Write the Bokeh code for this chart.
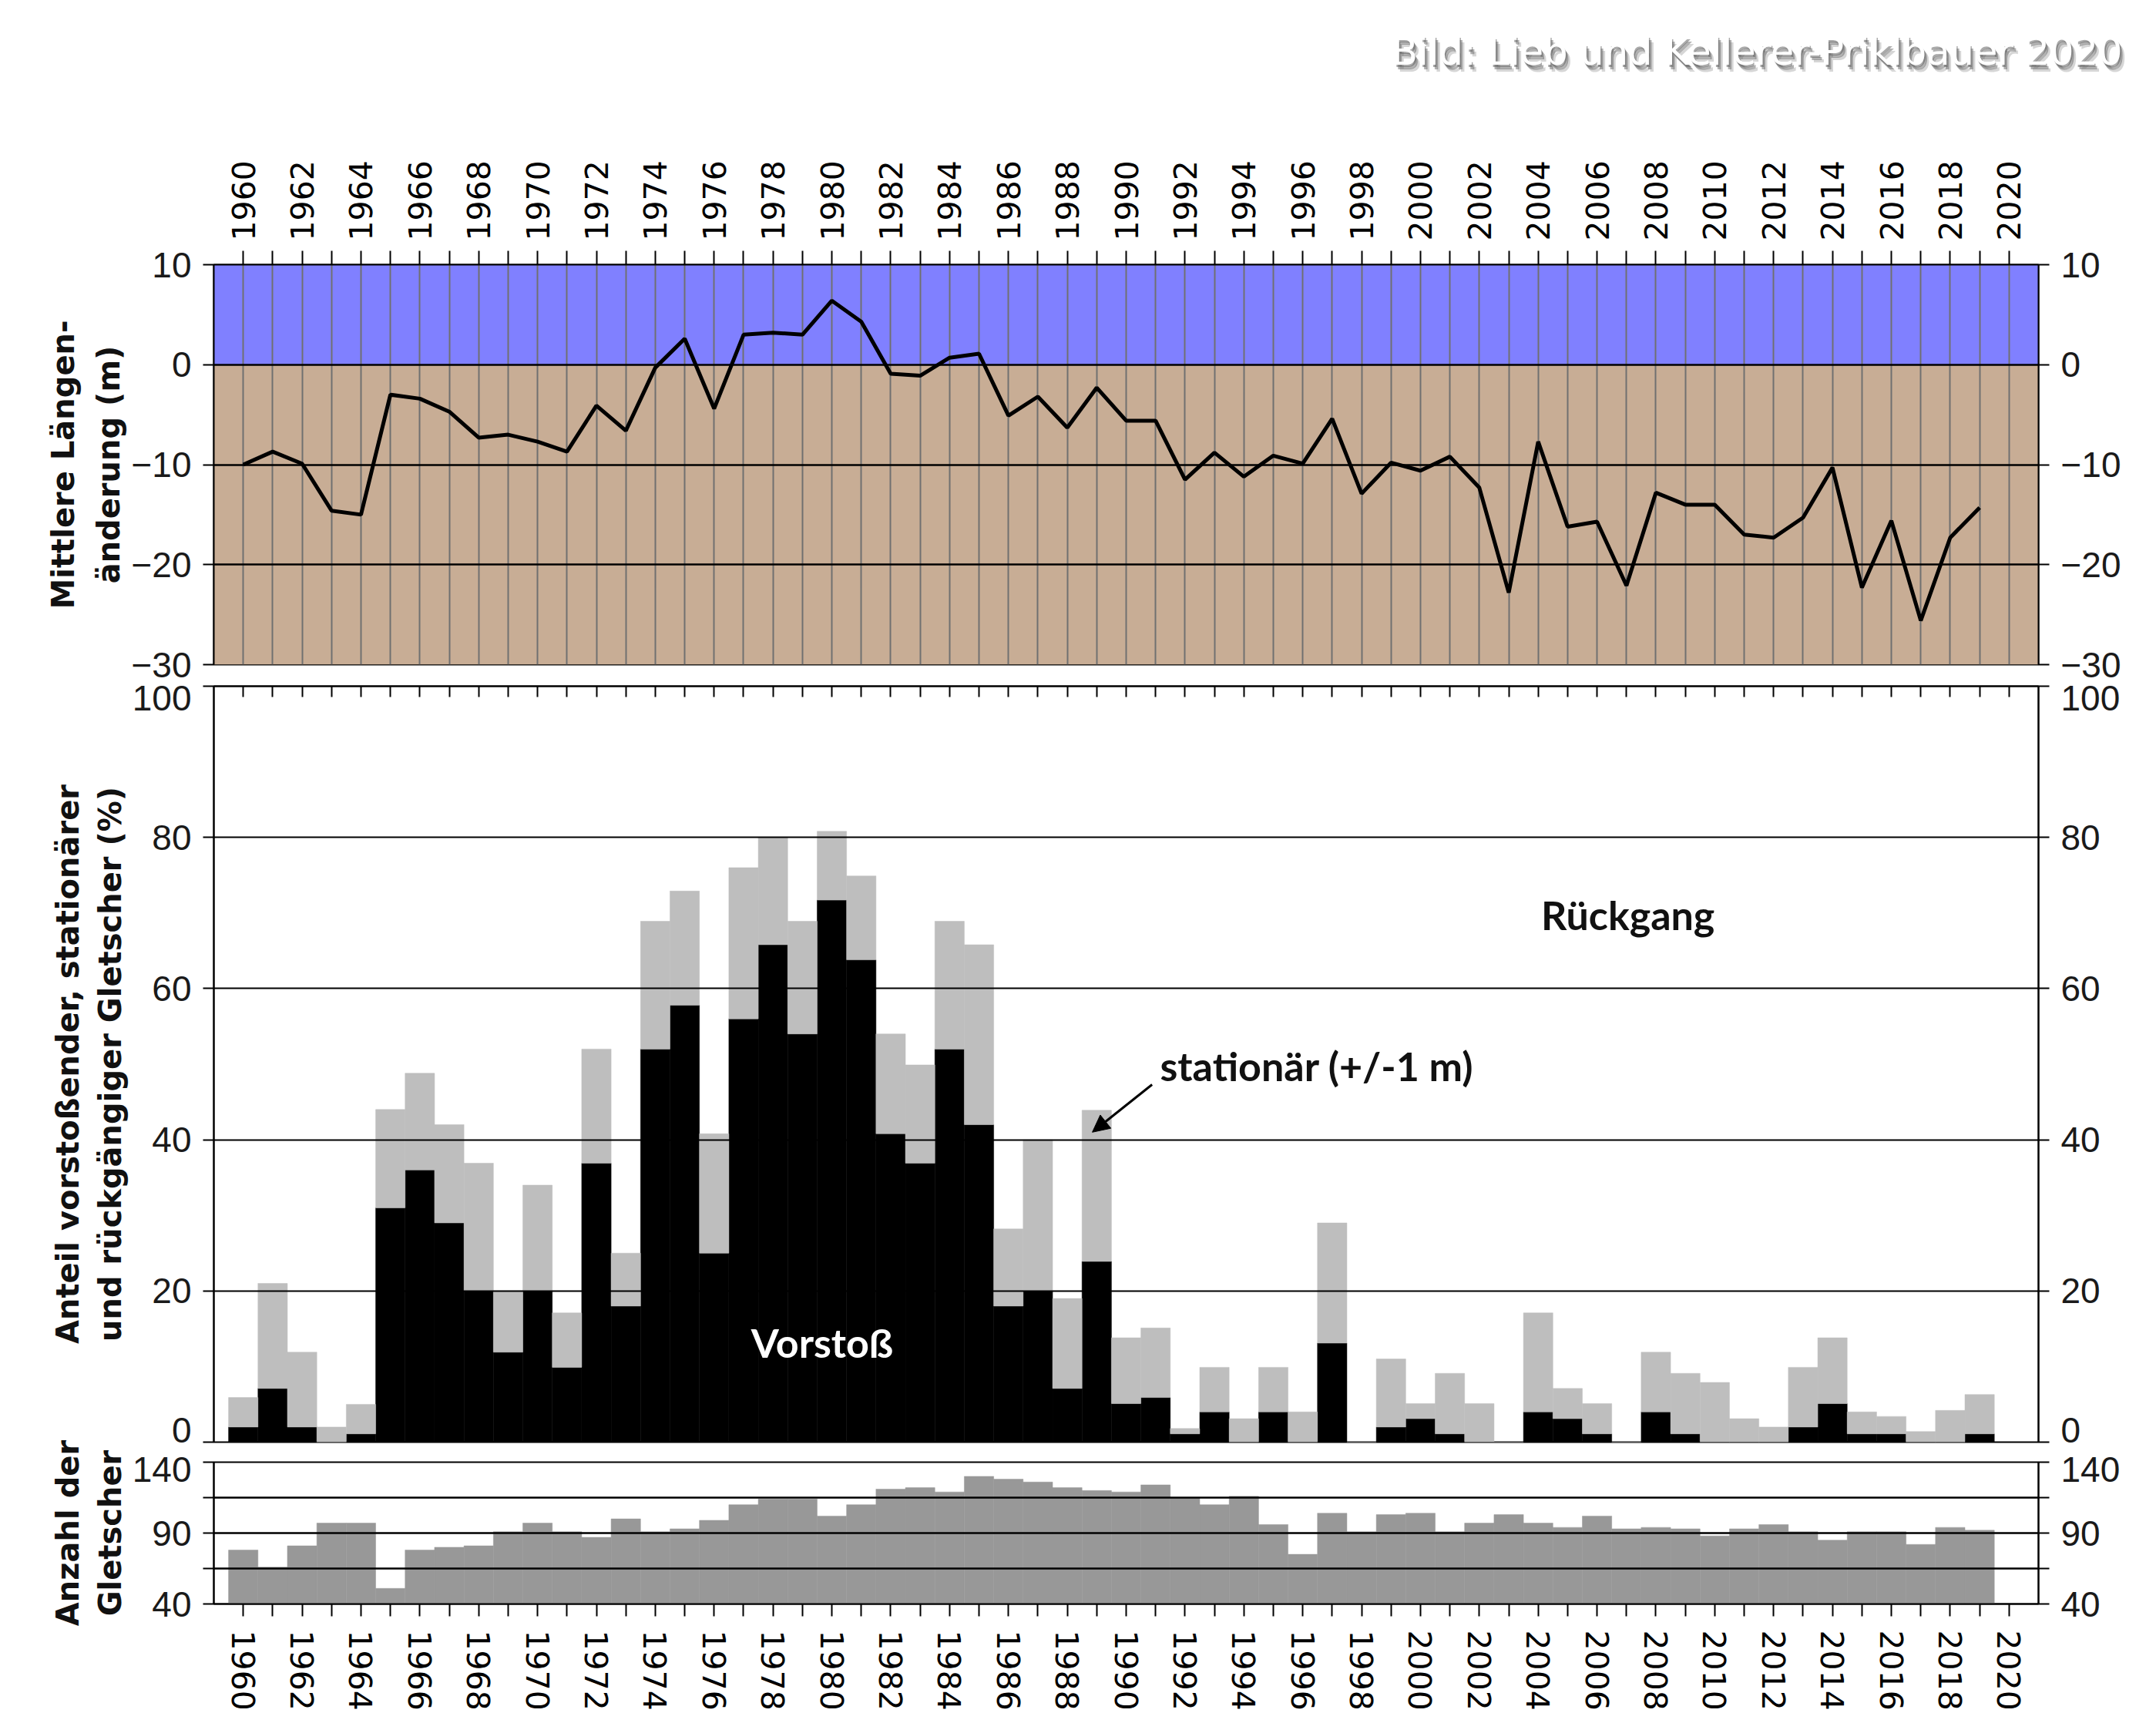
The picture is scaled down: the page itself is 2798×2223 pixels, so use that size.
from bokeh.plotting import figure
from bokeh.models import (Range1d, FixedTicker, LinearAxis, BoxAnnotation, Label,
                          Arrow, NormalHead, ColumnDataSource)
from bokeh.layouts import column
from bokeh.embed import file_html
from bokeh.resources import INLINE

# ---------------- data ----------------
years = list(range(1960, 2020))

length_change = [-10.0, -8.7, -9.9, -14.6, -15.0, -3.0, -3.4, -4.7, -7.3, -7.0,
                 -7.7, -8.7, -4.1, -6.6, -0.3, 2.6, -4.4, 3.0, 3.2, 3.0,
                 6.4, 4.3, -0.9, -1.1, 0.7, 1.1, -5.1, -3.2, -6.3, -2.3,
                 -5.6, -5.6, -11.5, -8.8, -11.2, -9.1, -9.9, -5.4, -12.9, -9.8,
                 -10.6, -9.2, -12.3, -22.8, -7.7, -16.2, -15.7, -22.1, -12.8, -14.0,
                 -14.0, -17.0, -17.3, -15.3, -10.3, -22.3, -15.6, -25.6, -17.3, -14.3]

advance = [2.0, 7.1, 2.0, 0.0, 1.1, 31.0, 36.0, 29.0, 20.0, 11.9,
           20.0, 9.9, 36.9, 18.0, 52.0, 57.8, 25.0, 56.0, 65.8, 54.0,
           71.7, 63.8, 40.8, 36.9, 52.0, 42.0, 18.0, 20.0, 7.1, 23.9,
           5.1, 5.9, 1.1, 4.0, 0.0, 4.0, 0.0, 13.1, 0.0, 2.0,
           3.1, 1.1, 0.0, 0.0, 4.0, 3.1, 1.1, 0.0, 4.0, 1.1,
           0.0, 0.0, 0.0, 2.0, 5.1, 1.1, 1.1, 0.0, 0.0, 1.1]

stationary = [3.9, 13.9, 9.9, 2.0, 3.9, 13.0, 12.8, 13.0, 16.9, 8.1,
              14.0, 7.2, 15.1, 7.0, 16.9, 15.1, 15.8, 20.0, 14.2, 14.9,
              9.1, 11.1, 13.2, 13.0, 16.9, 23.8, 10.2, 20.0, 11.9, 20.0,
              8.7, 9.2, 0.7, 5.9, 3.1, 5.9, 4.0, 15.9, 0.0, 9.0,
              2.0, 8.0, 5.1, 0.0, 13.1, 4.0, 4.0, 0.0, 7.9, 8.0,
              7.9, 3.1, 2.0, 7.9, 8.7, 2.9, 2.3, 1.4, 4.2, 5.2]

glacier_count = [78, 66, 81, 97, 97, 51, 78, 80, 81, 91,
                 97, 91, 87, 100, 91, 93, 99, 110, 114, 114,
                 102, 110, 121, 122, 119, 130, 128, 126, 122, 120,
                 119, 124, 115, 110, 116, 96, 75, 104, 91, 103,
                 104, 91, 97, 103, 97, 94, 102, 93, 94, 93,
                 88, 93, 96, 91, 85, 91, 91, 82, 94, 92]

year_ticks = list(range(1960, 2021))
year_labels = {y: (str(y) if y % 2 == 0 else "") for y in year_ticks}
top_ticks = [-30, -20, -10, 0, 10]
mid_ticks = [0, 20, 40, 60, 80, 100]
mid_labels = {0: "0\n", 100: "\n100"}
bot_ticks = [40, 65, 90, 115, 140]
bot_labels = {40: "40", 65: "", 90: "90", 115: "", 140: "\n140"}

credit = "Bild: Lieb und Kellerer-Priklbauer 2020"

# ---------------- style ----------------
W = 2782
LEFT = 277
RIGHT = W - LEFT - 2368
OV = 30                      # overlap between stacked panels (so edge labels are not cut)
CREDIT_H = 130
TICK_FONT = "Liberation Sans"
YEAR_FONT = "DejaVu Sans"
TITLE_FONT = "DejaVu Sans"
ANN_FONT = "Lato"
BLUE = "#8080FF"
TAN = "#C8AD95"
LIGHT = "#BEBEBE"
DARKGRAY = "#989898"

x_range = Range1d(1959, 2021)


def style_y(ax, ticks, overrides=None, line_height=1.2):
    ax.ticker = FixedTicker(ticks=ticks)
    ax.major_tick_out = 14
    ax.major_tick_in = 0
    ax.minor_tick_out = 0
    ax.minor_tick_in = 0
    ax.major_tick_line_width = 2
    ax.major_tick_line_color = "black"
    ax.axis_line_width = 2
    ax.axis_line_color = "black"
    ax.major_label_text_font = TICK_FONT
    ax.major_label_text_font_size = "46px"
    ax.major_label_text_color = "#1a1a1a"
    ax.major_label_text_line_height = line_height
    ax.major_label_standoff = 15
    if overrides:
        ax.major_label_overrides = overrides


def style_title(ax, text, line_height=1.2):
    ax.axis_label = text
    ax.axis_label_text_font = TITLE_FONT
    ax.axis_label_text_font_style = "bold"
    ax.axis_label_text_font_size = "40px"
    ax.axis_label_text_color = "#111111"
    ax.axis_label_standoff = 3
    ax.axis_label_text_line_height = line_height


def style_x(ax, tick_out, tick_in, show_labels, standoff):
    ax.ticker = FixedTicker(ticks=year_ticks)
    ax.major_tick_out = tick_out
    ax.major_tick_in = tick_in
    ax.minor_tick_out = 0
    ax.minor_tick_in = 0
    ax.major_tick_line_width = 2
    ax.major_tick_line_color = "black"
    ax.axis_line_width = 2
    ax.axis_line_color = "black"
    if show_labels:
        ax.major_label_overrides = year_labels
        ax.major_label_orientation = "vertical"
        ax.major_label_text_font = YEAR_FONT
        ax.major_label_text_font_size = "41px"
        ax.major_label_text_color = "black"
        ax.major_label_standoff = standoff
    else:
        ax.major_label_overrides = {y: "" for y in year_ticks}
        ax.major_label_text_font_size = "0px"
        ax.major_label_standoff = 0


def transparent(p):
    p.background_fill_alpha = 0
    p.border_fill_alpha = 0


common = dict(width=W, x_range=x_range, output_backend="svg", toolbar_location=None,
              min_border_left=LEFT, min_border_right=RIGHT)


# ---------------- credit line (white text with soft grey shadow) ----------------
def credit_fig(color, alpha, dx, dy, overlap):
    f = figure(width=W, height=CREDIT_H, x_range=Range1d(0, 1), y_range=Range1d(0, 1),
               x_axis_location=None, y_axis_location=None, output_backend="svg",
               toolbar_location=None, min_border_left=LEFT, min_border_right=RIGHT,
               min_border_top=100 + dy, min_border_bottom=0, title=credit)
    f.title.align = "right"
    f.title.offset = -109 - dx
    f.title.text_font = YEAR_FONT
    f.title.text_font_style = "normal"
    f.title.text_font_size = "49.5px"
    f.title.text_color = color
    f.title.text_alpha = alpha
    f.outline_line_color = None
    f.grid.visible = False
    transparent(f)
    if overlap:
        f.margin = (-CREDIT_H, 0, 0, 0)
    return f


c1 = credit_fig("#8a8a8a", 0.35, 6, 9, False)
c2 = credit_fig("#666666", 0.5, 3.5, 6, True)
c3 = credit_fig("#555555", 0.5, 1.5, 3, True)
c4 = credit_fig("white", 1.0, 0, 0, True)

# ---------------- top panel: mean length change ----------------
p1 = figure(height=746 + OV, y_range=Range1d(-30, 10), x_axis_location="above",
            min_border_top=213, min_border_bottom=14 + OV, **common)
transparent(p1)
p1.outline_line_color = "black"
p1.outline_line_width = 2
p1.add_layout(BoxAnnotation(bottom=0, fill_color=BLUE, fill_alpha=1.0,
                            line_color=None, level="underlay"))
p1.add_layout(BoxAnnotation(top=0, fill_color=TAN, fill_alpha=1.0,
                            line_color=None, level="underlay"))
p1.xgrid.ticker = FixedTicker(ticks=year_ticks)
p1.xgrid.grid_line_color = "#707070"
p1.xgrid.grid_line_width = 2
p1.xgrid.level = "glyph"
p1.ygrid.ticker = FixedTicker(ticks=top_ticks)
p1.ygrid.grid_line_color = "black"
p1.ygrid.grid_line_width = 2.5
p1.ygrid.level = "glyph"
p1.line(years, length_change, line_color="black", line_width=5, level="overlay")

style_x(p1.xaxis[0], 18, 0, True, 13)
style_y(p1.yaxis[0], top_ticks)
style_title(p1.yaxis[0], "Mittlere Längen-\nänderung (m)", 1.3)
r1 = LinearAxis()
style_y(r1, top_ticks)
p1.add_layout(r1, "right")

# ---------------- middle panel: share of glaciers ----------------
src = ColumnDataSource(dict(year=years, advance=advance, stationary=stationary))
p2 = figure(height=1008 + 2 * OV, y_range=Range1d(0, 100), x_axis_location="above",
            min_border_top=14 + OV, min_border_bottom=13 + OV, **common)
transparent(p2)
p2.margin = (-2 * OV, 0, 0, 0)
p2.outline_line_color = "black"
p2.outline_line_width = 2
p2.vbar_stack(["advance", "stationary"], x="year", width=1.0,
              fill_color=["black", LIGHT], line_color=["black", LIGHT],
              line_width=0.5, source=src)
p2.xgrid.visible = False
p2.ygrid.ticker = FixedTicker(ticks=mid_ticks)
p2.ygrid.grid_line_color = "black"
p2.ygrid.grid_line_width = 2
p2.ygrid.level = "annotation"

style_x(p2.xaxis[0], 0, 14, False, 0)
style_y(p2.yaxis[0], mid_ticks, mid_labels, 0.6)
style_title(p2.yaxis[0], "Anteil vorstoßender, stationärer\nund rückgängiger Gletscher (%)")
r2 = LinearAxis()
style_y(r2, mid_ticks, mid_labels, 0.6)
p2.add_layout(r2, "right")

p2.add_layout(Label(x=2007.05, y=69.8, text="Rückgang", text_align="center",
                    text_baseline="middle", text_font=ANN_FONT,
                    text_font_style="bold", text_font_size="52px", text_color="#111111"))
p2.add_layout(Label(x=1991.15, y=49.8, text="stationär (+/-1 m)", text_align="left",
                    text_baseline="middle", text_font=ANN_FONT,
                    text_font_style="bold", text_font_size="52px", text_color="#111111"))
p2.add_layout(Label(x=1979.67, y=13.2, text="Vorstoß", text_align="center",
                    text_baseline="middle", text_font=ANN_FONT,
                    text_font_style="bold", text_font_size="52px", text_color="white"))
p2.add_layout(Arrow(end=NormalHead(size=22, fill_color="black", line_color="black"),
                    x_start=1990.88, y_start=47.3, x_end=1988.85, y_end=41.0,
                    line_color="black", line_width=3))

# ---------------- bottom panel: number of glaciers ----------------
p3 = figure(height=338 + OV, y_range=Range1d(40, 140),
            min_border_top=13 + OV, min_border_bottom=138, **common)
transparent(p3)
p3.margin = (-2 * OV, 0, 0, 0)
p3.outline_line_color = "black"
p3.outline_line_width = 2
p3.vbar(x=years, top=glacier_count, bottom=40, width=1.0,
        fill_color=DARKGRAY, line_color=DARKGRAY, line_width=0.5)
p3.xgrid.visible = False
p3.ygrid.ticker = FixedTicker(ticks=bot_ticks)
p3.ygrid.grid_line_color = "black"
p3.ygrid.grid_line_width = 2.5
p3.ygrid.level = "annotation"

style_x(p3.xaxis[0], 16, 0, True, 18)
style_y(p3.yaxis[0], bot_ticks, bot_labels, 0.35)
style_title(p3.yaxis[0], "Anzahl der\nGletscher")
r3 = LinearAxis()
style_y(r3, bot_ticks, bot_labels, 0.35)
p3.add_layout(r3, "right")

layout = column(c1, c2, c3, c4, p1, p2, p3, spacing=0)

open("out.html", "w").write(file_html(layout, INLINE))
